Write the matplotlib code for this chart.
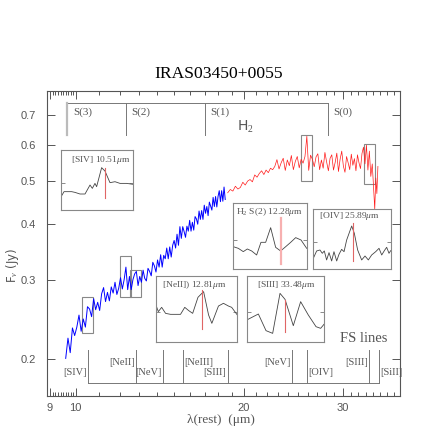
import matplotlib
matplotlib.use('Agg')
import matplotlib.pyplot as plt
from matplotlib.patches import Rectangle
from matplotlib.ticker import FixedLocator, FixedFormatter, NullLocator

plt.rcParams['mathtext.fontset'] = 'custom'
plt.rcParams['mathtext.rm'] = 'Liberation Serif'
plt.rcParams['mathtext.it'] = 'Liberation Serif:italic'

# ---- spectrum, short-wavelength part (blue) ----
blue_wave = [9.60, 9.69, 9.78, 9.87, 9.96, 10.05, 10.14, 10.23, 10.32, 10.41,
             10.50, 10.59, 10.68, 10.77, 10.86, 10.95, 11.04, 11.13, 11.22, 11.31,
             11.40, 11.49, 11.58, 11.67, 11.76, 11.85, 11.94, 12.03, 12.12, 12.21,
             12.30, 12.39, 12.48, 12.57, 12.66, 12.75, 12.84, 12.93, 13.02, 13.11,
             13.20, 13.29, 13.38, 13.47, 13.56, 13.65, 13.74, 13.83, 13.92, 14.01,
             14.10, 14.19, 14.28, 14.37, 14.46, 14.55, 14.64, 14.73, 14.82, 14.91,
             15.00, 15.09, 15.18, 15.27, 15.36, 15.45, 15.54, 15.63, 15.72, 15.81,
             15.90, 15.99, 16.08, 16.17, 16.26, 16.35, 16.44, 16.53, 16.62, 16.71,
             16.80, 16.89, 16.98, 17.07, 17.16, 17.25, 17.34, 17.43, 17.52, 17.61,
             17.70, 17.79, 17.88, 17.97, 18.06, 18.15, 18.24, 18.33, 18.42, 18.51]
blue_flux = [0.201, 0.223, 0.207, 0.235, 0.226, 0.236, 0.251, 0.231, 0.246, 0.236,
             0.262, 0.259, 0.249, 0.273, 0.258, 0.268, 0.257, 0.280, 0.289, 0.269,
             0.282, 0.270, 0.290, 0.281, 0.297, 0.279, 0.288, 0.304, 0.287, 0.301,
             0.321, 0.286, 0.306, 0.286, 0.301, 0.310, 0.314, 0.292, 0.306, 0.297,
             0.316, 0.303, 0.299, 0.319, 0.314, 0.307, 0.329, 0.323, 0.313, 0.333,
             0.321, 0.342, 0.321, 0.341, 0.335, 0.354, 0.335, 0.356, 0.338, 0.359,
             0.368, 0.354, 0.380, 0.359, 0.395, 0.372, 0.395, 0.385, 0.374, 0.396,
             0.386, 0.408, 0.386, 0.404, 0.388, 0.416, 0.411, 0.400, 0.428, 0.410,
             0.429, 0.410, 0.441, 0.423, 0.438, 0.418, 0.448, 0.439, 0.430, 0.459,
             0.438, 0.461, 0.437, 0.461, 0.475, 0.449, 0.475, 0.450, 0.484, 0.454]

# ---- spectrum, long-wavelength part (red) ----
red_wave = [18.70, 18.90, 19.10, 19.30, 19.50, 19.70, 19.90, 20.10, 20.30, 20.50,
            20.70, 20.90, 21.10, 21.30, 21.50, 21.70, 21.90, 22.10, 22.30, 22.50,
            22.70, 22.90, 23.10, 23.30, 23.50, 23.70, 23.90, 24.10, 24.30, 24.50,
            24.70, 24.90, 25.10, 25.30, 25.50, 25.70, 25.90, 26.10, 26.30, 26.50,
            26.70, 26.90, 27.10, 27.30, 27.50, 27.70, 27.90, 28.10, 28.30, 28.50,
            28.70, 28.90, 29.10, 29.30, 29.50, 29.70, 29.90, 30.10, 30.30, 30.50,
            30.70, 30.90, 31.10, 31.30, 31.50, 31.70, 31.90, 32.10, 32.30, 32.50,
            32.70, 32.90, 33.10, 33.30, 33.50, 33.70, 33.90, 34.10, 34.25, 34.40,
            34.55, 34.70]
red_flux = [0.470, 0.478, 0.474, 0.486, 0.479, 0.483, 0.496, 0.489, 0.499, 0.503,
            0.497, 0.515, 0.509, 0.519, 0.526, 0.516, 0.528, 0.521, 0.533, 0.529,
            0.538, 0.557, 0.531, 0.548, 0.561, 0.527, 0.556, 0.540, 0.569, 0.529,
            0.552, 0.566, 0.534, 0.558, 0.547, 0.566, 0.628, 0.527, 0.570, 0.558,
            0.537, 0.565, 0.574, 0.529, 0.556, 0.533, 0.578, 0.550, 0.526, 0.561,
            0.571, 0.528, 0.549, 0.576, 0.524, 0.558, 0.582, 0.539, 0.522, 0.566,
            0.548, 0.529, 0.573, 0.541, 0.560, 0.526, 0.571, 0.548, 0.532, 0.575,
            0.594, 0.545, 0.600, 0.528, 0.582, 0.511, 0.545, 0.478, 0.432, 0.507,
            0.468, 0.538]

# ---- line identifications ----
h2_wave = [9.66, 12.28, 17.03, 28.22]
h2_names = ['S(3)', 'S(2)', 'S(1)', 'S(0)']

fs_wave = [10.51, 12.81, 14.32, 15.56, 18.71, 24.32, 25.89, 33.48, 34.82]
fs_names = ['[SIV]', '[NeII]', '[NeV]', '[NeIII]', '[SIII]',
            '[NeV]', '[OIV]', '[SIII]', '[SiII]']
fs_upper = [False, True, False, True, False, True, False, True, False]
fs_left = [False, False, False, True, False, False, True, False, True]

# boxes drawn on the spectrum around the zoomed lines
box_wave = [10.51, 12.28, 12.81, 25.89, 33.48]
box_lo = [0.229, 0.275, 0.275, 0.500, 0.491]
box_hi = [0.275, 0.339, 0.316, 0.632, 0.603]

# ---- zoomed line profiles (relative position / relative flux) ----
siv_x = [0, 0.046, 0.151, 0.197, 0.266, 0.335, 0.404, 0.436, 0.472, 0.495,
         0.564, 0.61, 0.679, 0.748, 0.817, 0.908, 1.0]
siv_y = [0.211, 0.306, 0.306, 0.294, 0.267, 0.267, 0.417, 0.361, 0.444, 0.389,
         0.706, 0.65, 0.456, 0.472, 0.444, 0.444, 0.428]
h2s2_x = [0, 0.068, 0.136, 0.191, 0.25, 0.318, 0.377, 0.441, 0.509, 0.577,
          0.645, 0.714, 0.782, 0.85, 0.923, 1.0]
h2s2_y = [0.343, 0.318, 0.268, 0.308, 0.278, 0.217, 0.409, 0.409, 0.631, 0.333,
          0.278, 0.343, 0.409, 0.48, 0.444, 0.318]
oiv_x = [0, 0.043, 0.086, 0.116, 0.142, 0.172, 0.203, 0.237, 0.267, 0.302,
         0.332, 0.366, 0.397, 0.431, 0.496, 0.530, 0.573, 0.625, 0.668, 0.711,
         0.754, 0.806, 0.849, 0.884, 0.918, 0.948, 0.978, 1.0]
oiv_y = [0.183, 0.306, 0.322, 0.267, 0.306, 0.156, 0.278, 0.139, 0.294, 0.139,
         0.25, 0.333, 0.294, 0.489, 0.722, 0.6, 0.322, 0.156, 0.222, 0.156,
         0.239, 0.294, 0.35, 0.239, 0.311, 0.367, 0.267, 0.311]
neii_x = [0, 0.032, 0.073, 0.121, 0.182, 0.304, 0.356, 0.405, 0.453, 0.518,
          0.587, 0.648, 0.688, 0.769, 0.83, 0.891, 0.931, 1.0]
neii_y = [0.571, 0.46, 0.525, 0.434, 0.419, 0.419, 0.525, 0.475, 0.434, 0.677,
          0.763, 0.409, 0.283, 0.545, 0.586, 0.545, 0.525, 0.409]
siii_x = [0, 0.151, 0.25, 0.336, 0.431, 0.496, 0.603, 0.698, 0.797, 0.897,
          0.957, 1.0]
siii_y = [0.333, 0.424, 0.172, 0.131, 0.737, 0.646, 0.247, 0.611, 0.409, 0.232,
          0.207, 0.268]

GREY = '#555555'
SERIF = 'Liberation Serif'

fig = plt.figure(figsize=(4.36, 4.36), dpi=100)
ax = fig.add_axes([0.1085, 0.0924, 0.8089, 0.6989])

ax.plot(blue_wave, blue_flux, color='#0000ff', lw=0.7)
ax.plot(red_wave, red_flux, color='#ff1a1a', lw=0.5)

ax.set_xscale('log')
ax.set_yscale('log')
ax.set_xlim(8.9, 38.0)
ax.set_ylim(0.166, 0.792)

ax.xaxis.set_major_locator(FixedLocator([9, 10, 20, 30]))
ax.xaxis.set_major_formatter(FixedFormatter(['9', '10', '20', '30']))
minors = [9 + 0.1 * k for k in range(1, 10)] + list(range(11, 20)) + \
    list(range(21, 30)) + list(range(31, 38))
ax.xaxis.set_minor_locator(FixedLocator(minors))
ax.xaxis.set_minor_formatter(FixedFormatter([''] * len(minors)))
yt = [0.2, 0.3, 0.4, 0.5, 0.6, 0.7]
ax.yaxis.set_major_locator(FixedLocator(yt))
ax.yaxis.set_major_formatter(FixedFormatter(['0.2', '0.3', '0.4', '0.5', '0.6', '0.7']))
ax.yaxis.set_minor_locator(NullLocator())

ax.tick_params(which='both', direction='in', top=True, right=True,
               color='#555555', labelcolor=GREY, width=0.7)
ax.tick_params(which='major', length=6)
ax.tick_params(which='minor', length=3)
ax.tick_params(axis='y', pad=8, labelsize=8)
ax.tick_params(axis='x', pad=5, labelsize=8)
for lab in ax.get_xticklabels() + ax.get_yticklabels():
    lab.set_fontfamily('Liberation Sans')
for sp in ax.spines.values():
    sp.set_color('#555555')
    sp.set_linewidth(0.8)

trans = ax.get_xaxis_transform()

# H2 bracket at the top
ax.plot([h2_wave[0], h2_wave[-1]], [0.9616, 0.9616], color='#777777', lw=0.7,
        transform=trans)
for i, (w, name) in enumerate(zip(h2_wave, h2_names)):
    ax.plot([w, w], [0.854, 0.9616], transform=trans,
            color='#bbbbbb' if i == 0 else '#777777', lw=1.6 if i == 0 else 0.7)
    ax.annotate(name, (w, 0.931), xycoords=trans, xytext=(4, 0),
                textcoords='offset points', ha='left', va='center',
                fontsize=8, color=GREY, family=SERIF)
ax.text(19.4, 0.883, 'H$_2$', transform=trans, ha='left', va='center',
        fontsize=10, color=GREY)

# fine-structure bracket at the bottom
ax.plot([fs_wave[0], fs_wave[-1]], [0.0417, 0.0417], color='#777777', lw=0.7,
        transform=trans)
for w, name, up, left in zip(fs_wave, fs_names, fs_upper, fs_left):
    ax.plot([w, w], [0.0417, 0.15], transform=trans, color='#777777', lw=0.7)
    ax.annotate(name, (w, 0.1106 if up else 0.0778), xycoords=trans,
                xytext=(1 if left else -1, 0), textcoords='offset points',
                ha='left' if left else 'right', va='center',
                fontsize=7.5, color=GREY, family=SERIF)
ax.text(29.7, 0.189, 'FS lines', transform=trans, ha='left', va='center',
        fontsize=10.5, color=GREY, family=SERIF)

# boxes around the zoomed lines
for w, lo, hi in zip(box_wave, box_lo, box_hi):
    ax.add_patch(Rectangle((w / 1.023, lo), w * 1.023 - w / 1.023, hi - lo,
                           fill=False, ec='#888888', lw=0.8))

# title and axis labels
fig.text(0.501, 0.830, 'IRAS03450+0055', ha='center', va='center',
         fontsize=12.6, family=SERIF)
fig.text(0.507, 0.037, 'λ(rest)  (μm)', ha='center', va='center',
         fontsize=9.5, color=GREY, family=SERIF)
fig.text(0.029, 0.392, 'F$_\\nu$ (Jy)', ha='center', va='center',
         rotation=90, fontsize=8.5, color=GREY)

# inset panels
insets = [
    ([0.1392, 0.5183, 0.1665, 0.1376], siv_x, siv_y, (0.61, 0.206, 0.706),
     '[SIV] 10.51$\\mu$m', (0.138, 0.83), '#e06666', 0.8),
    ([0.5351, 0.3823, 0.1683, 0.1514], h2s2_x, h2s2_y, (0.645, 0.081, 0.773),
     'H$_2$ S(2) 12.28$\\mu$m', (0.04, 0.873), '#f7b0b0', 1.6),
    ([0.7186, 0.3823, 0.1775, 0.1376], oiv_x, oiv_y, (0.517, 0.144, 0.767),
     '[OIV] 25.89$\\mu$m', (0.078, 0.888), '#e06666', 0.8),
    ([0.3571, 0.2156, 0.1872, 0.1514], neii_x, neii_y, (0.563, 0.192, 0.788),
     '[NeII]) 12.81$\\mu$m', (0.074, 0.864), '#e06666', 0.8),
    ([0.5658, 0.2156, 0.1773, 0.1514], siii_x, siii_y, (0.5, 0.157, 0.636),
     '[SIII] 33.48$\\mu$m', (0.13, 0.864), '#e06666', 0.8),
]
for rect, xs, ys, (lx, ly0, ly1), label, (tx, ty), lc, lw in insets:
    iax = fig.add_axes(rect)
    iax.plot(xs, ys, color='#444444', lw=0.6)
    iax.plot([lx, lx], [ly0, ly1], color=lc, lw=lw)
    iax.set_xlim(0, 1)
    iax.set_ylim(0, 1)
    iax.set_xticks([])
    iax.set_yticks([0.45])
    iax.tick_params(axis='y', direction='in', length=3, left=True, right=True,
                    labelleft=False, color='#777777', width=0.6)
    for sp in iax.spines.values():
        sp.set_color('#888888')
        sp.set_linewidth(0.8)
    iax.text(tx, ty, label, transform=iax.transAxes, ha='left', va='center',
             fontsize=6.8, color=GREY, family=SERIF)

fig.savefig('out.png', dpi=100)
